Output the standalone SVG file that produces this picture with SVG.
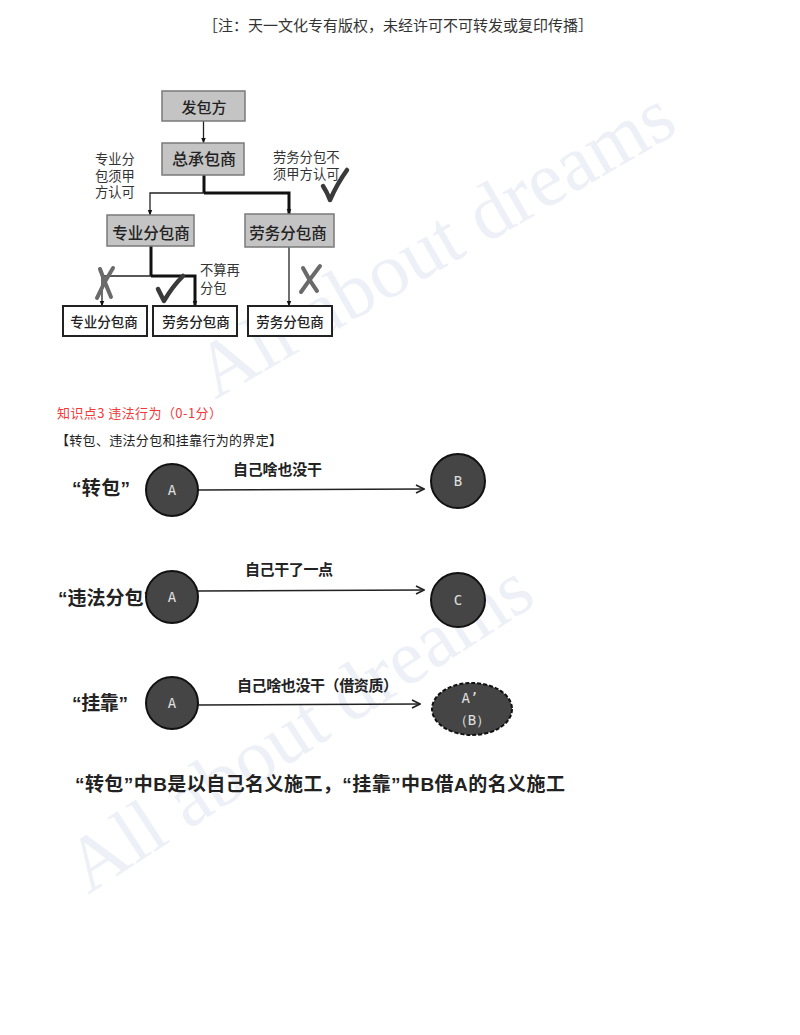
<svg xmlns="http://www.w3.org/2000/svg" width="800" height="1035" viewBox="0 0 800 1035">
<defs>
<style>
.wm{font-family:"Liberation Serif",serif;font-size:78px;fill:#edf0f6;}
.hdr{font-family:"Noto Sans CJK SC",sans-serif;font-size:15px;fill:#333;}
.box{fill:#c4c4c4;stroke:#7a7a7a;stroke-width:1.5;}
.wbox{fill:#fff;stroke:#222;stroke-width:2;}
.bt{font-family:"Noto Sans CJK SC",sans-serif;fill:#222;text-anchor:middle;font-weight:500;}
.lab{font-family:"Liberation Sans","Noto Sans CJK SC",sans-serif;font-size:13.3px;fill:#333;}
.thin{stroke:#222;stroke-width:1.3;fill:none;}
.thick{stroke:#111;stroke-width:3;fill:none;}
.xm{stroke:#6a6a6a;stroke-width:4;fill:none;stroke-linecap:round;}
.ck{stroke:#3a3a3a;stroke-width:4.5;fill:none;stroke-linecap:round;stroke-linejoin:round;}
.red{font-family:"Noto Sans CJK SC",sans-serif;font-size:13px;fill:#f03a3a;}
.sec{font-family:"Noto Sans CJK SC",sans-serif;font-size:13px;fill:#222;}
.row{font-family:"Liberation Sans","Noto Sans CJK SC",sans-serif;font-size:19px;font-weight:bold;fill:#222;}
.arl{font-family:"Noto Sans CJK SC",sans-serif;font-size:15px;font-weight:bold;fill:#222;}
.circ{fill:#454545;stroke:#111;stroke-width:2;}
.ct{font-family:"DejaVu Sans Mono",monospace;font-size:14px;fill:#e0e0e0;text-anchor:middle;}
.arr{stroke:#222;stroke-width:1.6;fill:none;}
</style>
<marker id="tri" viewBox="0 0 10 10" refX="9" refY="5" markerWidth="6" markerHeight="6" markerUnits="userSpaceOnUse" orient="auto"><path d="M0,1 L10,5 L0,9 z" fill="#111"/></marker>
<marker id="open" viewBox="0 0 10 10" refX="9" refY="5" markerWidth="10" markerHeight="10" markerUnits="userSpaceOnUse" orient="auto"><path d="M1,1 L9,5 L1,9" fill="none" stroke="#222" stroke-width="1.6"/></marker>
</defs>

<g id="watermark">
<text class="wm" transform="translate(215,400) rotate(-30)">All about dreams</text>
<text class="wm" transform="translate(88,895) rotate(-33)">All about dreams</text>
</g>

<text id="header" class="hdr" x="203" y="30.5" textLength="390">［注：天一文化专有版权，未经许可不可转发或复印传播］</text>

<g id="connectors">
<line class="thin" x1="203.5" y1="121" x2="203.5" y2="143" marker-end="url(#tri)"/>
<line class="thick" x1="204" y1="175" x2="204" y2="193"/>
<polyline class="thin" points="204,193 150,193 150,215" marker-end="url(#tri)"/>
<polyline class="thick" points="204,193 289,193 289,214" marker-end="url(#tri)"/>
<line class="thick" x1="151" y1="246" x2="151" y2="276"/>
<polyline class="thin" points="151,276 102,276 102,306" marker-end="url(#tri)"/>
<polyline class="thick" points="151,276 195,276 195,306" marker-end="url(#tri)"/>
<line class="thin" x1="289" y1="247" x2="289" y2="306" marker-end="url(#tri)"/>
</g>

<g id="n-fabaofang"><rect class="box" x="162" y="91" width="83" height="30"/><text class="bt" x="204" y="112.5" font-size="15">发包方</text></g>
<g id="n-zongchengbaoshang"><rect class="box" x="162" y="143" width="82" height="32"/><text class="bt" x="204" y="165" font-size="16">总承包商</text></g>
<g id="n-zhuanye1"><rect class="box" x="107" y="215" width="87" height="31"/><text class="bt" x="151" y="238.5" font-size="15.5">专业分包商</text></g>
<g id="n-laowu1"><rect class="box" x="245" y="214" width="89" height="33"/><text class="bt" x="288" y="238.5" font-size="15.5">劳务分包商</text></g>
<g id="n-zhuanye2"><rect class="wbox" x="63" y="306" width="84" height="30"/><text class="bt" x="104" y="326.5" font-size="13.5">专业分包商</text></g>
<g id="n-laowu2"><rect class="wbox" x="153" y="306" width="84" height="30"/><text class="bt" x="196" y="326.5" font-size="13.5">劳务分包商</text></g>
<g id="n-laowu3"><rect class="wbox" x="248" y="306" width="84" height="30"/><text class="bt" x="290" y="326.5" font-size="13.5">劳务分包商</text></g>

<g id="labels">
<text class="lab"><tspan x="95" y="164">专业分</tspan><tspan x="95" y="180.5">包须甲</tspan><tspan x="95" y="197">方认可</tspan></text>
<text class="lab"><tspan x="273" y="162">劳务分包不</tspan><tspan x="273" y="179">须甲方认可</tspan></text>
<text class="lab"><tspan x="200" y="275">不算再</tspan><tspan x="200" y="293">分包</tspan></text>
</g>

<g id="marks">
<path class="ck" d="M323,186 Q327,192 330,200 Q337,184 347,170"/>
<path class="xm" d="M100,269 Q105,283 111,297"/>
<path class="xm" d="M113,268 Q104,282 97,298"/>
<path class="ck" d="M158,289 Q161,295 164,301 Q172,287 183,276"/>
<path class="xm" d="M303,268 Q309,280 317,291"/>
<path class="xm" d="M320,266 Q310,279 301,292"/>
</g>

<text id="kp3" class="red" x="57" y="418" textLength="165">知识点3 违法行为（0-1分）</text>
<text id="sec-title" class="sec" x="56" y="445" textLength="226">【转包、违法分包和挂靠行为的界定】</text>

<g id="row1">
<text class="row" x="72" y="495" textLength="58">“转包”</text>
<line class="arr" x1="198" y1="490" x2="424" y2="489" marker-end="url(#open)"/>
<text class="arl" x="233" y="475" textLength="89">自己啥也没干</text>
<g id="r1-A"><circle class="circ" cx="172" cy="490" r="26"/><text class="ct" x="172" y="495">A</text></g>
<g id="r1-B"><circle class="circ" cx="458" cy="481" r="27"/><text class="ct" x="458" y="486">B</text></g>
</g>

<g id="row2">
<text class="row" x="58" y="605">“违法分包”</text>
<line class="arr" x1="198" y1="591" x2="424" y2="590" marker-end="url(#open)"/>
<text class="arl" x="245" y="575" textLength="88">自己干了一点</text>
<g id="r2-A"><circle class="circ" cx="172" cy="597" r="26"/><text class="ct" x="172" y="602">A</text></g>
<g id="r2-C"><circle class="circ" cx="458" cy="600" r="27"/><text class="ct" x="458" y="605">C</text></g>
</g>

<g id="row3">
<text class="row" x="72" y="710" textLength="56">“挂靠”</text>
<line class="arr" x1="198" y1="705" x2="420" y2="704" marker-end="url(#open)"/>
<text class="arl" x="237" y="691" textLength="161">自己啥也没干（借资质）</text>
<g id="r3-A"><circle class="circ" cx="172" cy="703" r="26"/><text class="ct" x="172" y="708">A</text></g>
<g id="r3-AB"><ellipse cx="472" cy="709" rx="40" ry="26" fill="#454545" stroke="#111" stroke-width="2" stroke-dasharray="4 2"/><text class="ct" x="470" y="703" font-size="13">A’</text><text class="ct" x="472" y="725" font-size="13">（B）</text></g>
</g>

<text id="summary" class="row" x="75" y="791" font-size="18" textLength="490">“转包”中B是以自己名义施工，“挂靠”中B借A的名义施工</text>
</svg>
